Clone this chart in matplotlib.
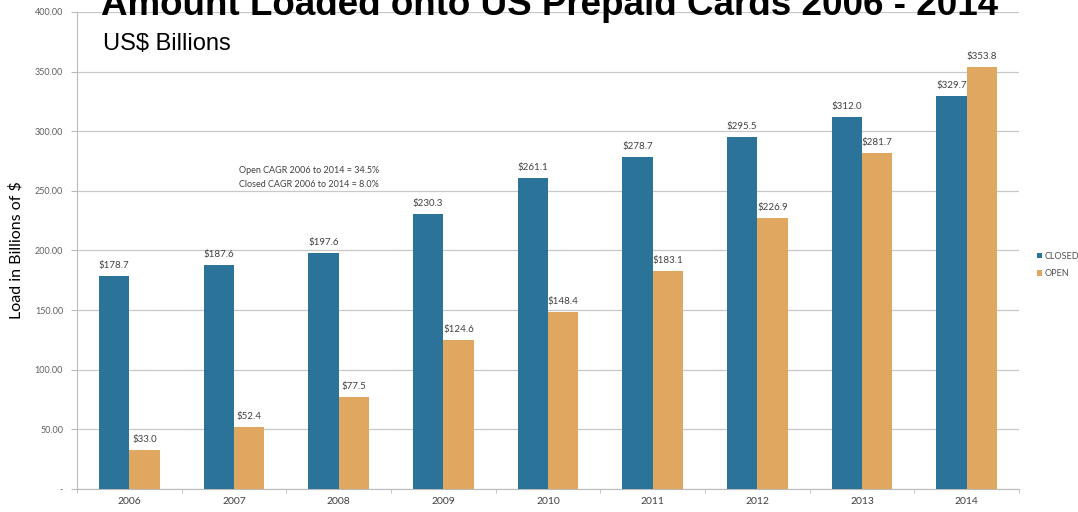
import numpy as np
import matplotlib
matplotlib.use('Agg')
import matplotlib.pyplot as plt

# 数据
years = ['2006', '2007', '2008', '2009', '2010', '2011', '2012', '2013', '2014']
closed = [178.7, 187.6, 197.6, 230.3, 261.1, 278.7, 295.5, 312.0, 329.7]
opened = [33.0, 52.4, 77.5, 124.6, 148.4, 183.1, 226.9, 281.7, 353.8]
yticks = [0, 50, 100, 150, 200, 250, 300, 350, 400]
ytick_labels = ['-', '50.00', '100.00', '150.00', '200.00', '250.00', '300.00', '350.00', '400.00']
cagr_lines = ['Open CAGR 2006 to 2014 = 34.5%', 'Closed CAGR 2006 to 2014 = 8.0%']

col_closed = '#2C7399'
col_open = '#DFA75F'
small_font = ['Lato', 'DejaVu Sans']

fig = plt.figure(figsize=(10.78, 5.12), dpi=100)
ax = fig.add_axes([77 / 1078, 1 - 489 / 512, 942 / 1078, 477 / 512])

x = np.arange(len(years))
w = 0.29
b1 = ax.bar(x - w / 2, closed, w, color=col_closed, label='CLOSED', zorder=3)
b2 = ax.bar(x + w / 2, opened, w, color=col_open, label='OPEN', zorder=3)

for bars, vals in [(b1, closed), (b2, opened)]:
    for bar, v in zip(bars, vals):
        ax.text(bar.get_x() + bar.get_width() / 2, v + 5, f'${v:.1f}',
                ha='center', va='bottom', fontsize=7, color='#404040', family=small_font)

ax.set_xlim(-0.5, len(years) - 0.5)
ax.set_ylim(0, 400)
ax.set_xticks(x)
ax.set_xticklabels(years, fontsize=7.5, color='#404040', family=small_font)
ax.set_xticks(np.arange(-0.5, len(years), 1), minor=True)
ax.tick_params(axis='x', which='major', length=0, pad=6)
ax.tick_params(axis='x', which='minor', length=3, color='#bbbbbb')
ax.set_yticks(yticks)
ax.set_yticklabels(ytick_labels, fontsize=6.5, color='#606060', family=small_font)
ax.tick_params(axis='y', length=4, color='#bbbbbb', pad=6)
ax.grid(axis='y', color='#c8c8c8', linewidth=0.9, zorder=0)
for s in ['top', 'right']:
    ax.spines[s].set_visible(False)
ax.spines['left'].set_color('#bbbbbb')
ax.spines['bottom'].set_color('#bbbbbb')

ax.set_ylabel('Load in Billions of $', fontsize=11.5, family=small_font, labelpad=8)

ax.text(1.05, 267, cagr_lines[0], fontsize=6.5, color='#404040', family=small_font, va='center')
ax.text(1.05, 255, cagr_lines[1], fontsize=6.5, color='#404040', family=small_font, va='center')

leg = ax.legend(loc='center left', bbox_to_anchor=(1.01, 0.47), frameon=False,
                prop={'family': 'Lato', 'size': 6.5}, handlelength=0.6, handleheight=0.6,
                handletextpad=0.3, labelspacing=0.9)
for t in leg.get_texts():
    t.set_color('#505050')

fig.text(550 / 1078, 1 - 15 / 512, 'Amount Loaded onto US Prepaid Cards 2006 - 2014',
         ha='center', va='baseline', fontsize=26.5, fontweight='bold', family='Liberation Sans')
fig.text(103 / 1078, 1 - 50 / 512, 'US$ Billions', ha='left', va='baseline',
         fontsize=17, family='Liberation Sans')

fig.savefig('out.png', dpi=100)
